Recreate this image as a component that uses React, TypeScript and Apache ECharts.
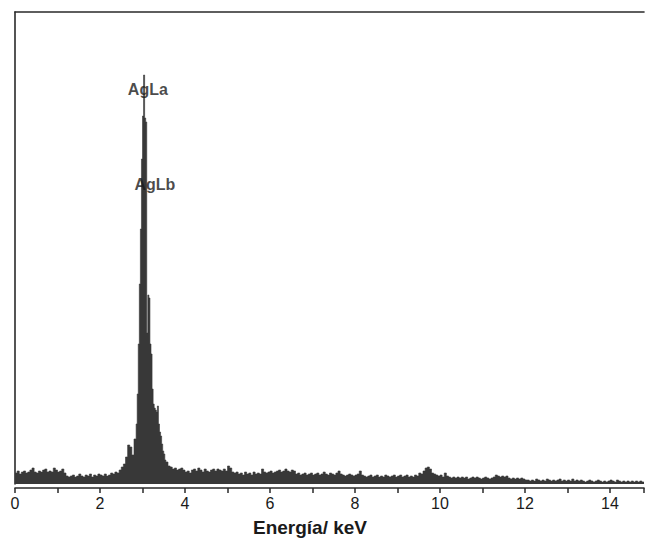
import React, { useEffect, useRef } from "react";
import * as echarts from "echarts";

// Counts (arbitrary units) in 0.05 keV bins from 0.00 to 2.80 keV
const lowCounts = [
  11, 13, 10, 12, 13, 11, 12, 14, 16, 12, 11, 13, 12, 14, 15, 12, 13, 12, 16, 14,
  12, 13, 15, 11, 8, 7, 8, 9, 7, 8, 10, 8, 7, 9, 8, 10, 7, 9, 8, 10,
  9, 8, 10, 8, 9, 11, 10, 12, 11, 14, 17, 20, 27, 39, 37, 29, 45,
];

// Fine bins (0.025 keV) across the Ag L peak
const peakEnergies = [
  2.85, 2.875, 2.9, 2.925, 2.95, 2.975, 3.0, 3.025, 3.05, 3.075, 3.1, 3.125, 3.15, 3.175,
  3.2, 3.225, 3.25, 3.275, 3.3, 3.325, 3.35, 3.375, 3.4, 3.425, 3.45, 3.475, 3.5, 3.525,
];
const peakCounts = [
  60, 90, 140, 200, 255, 325, 368, 409, 366, 362, 151, 189, 186, 140,
  130, 95, 80, 76, 74, 72, 78, 60, 52, 48, 40, 33, 30, 24,
];

// Counts in 0.05 keV bins from 3.55 to 14.75 keV
const highCounts = [
  22, 18, 17, 15, 16, 14, 15, 16, 14,
  12, 13, 11, 14, 15, 13, 16, 14, 12, 15, 13, 12, 14, 15, 13, 15, 14, 13, 15, 13,
  18, 16, 12, 11, 12, 10, 11, 9, 12, 10, 11, 9, 12, 10, 11, 10, 15, 12, 11, 12,
  13, 11, 12, 13, 14, 12, 13, 15, 13, 12, 14, 13, 10, 11, 9, 10, 11, 9, 10, 11,
  9, 10, 11, 9, 10, 12, 10, 9, 11, 10, 9, 11, 13, 10, 9, 8, 9, 10, 9, 8,
  9, 10, 13, 9, 8, 7, 8, 9, 7, 8, 9, 7, 8, 7, 9, 8, 7, 8, 9, 7,
  8, 9, 7, 8, 9, 7, 8, 7, 9, 8, 11, 10, 13, 16, 17, 15, 11, 10, 9, 8,
  9, 7, 11, 8, 7, 6, 7, 6, 7, 6, 7, 6, 7, 5, 6, 7, 6, 7, 6, 5,
  6, 7, 6, 5, 6, 7, 9, 8, 7, 8, 7, 8, 6, 5, 6, 5, 6, 5, 6, 5,
  4, 4, 3, 4, 3, 5, 4, 3, 4, 3, 5, 4, 3, 4, 3, 4, 5, 3, 4, 3,
  4, 3, 5, 3, 4, 3, 4, 3, 2, 3, 4, 3, 2, 3, 4, 3, 2, 3, 2, 3,
  4, 3, 2, 4, 3, 2, 3, 2, 3, 2, 3, 2, 3, 2, 3, 2,
];

const peakLabels = [
  { name: "AgLa", energy: 3.126, count: 395 },
  { name: "AgLb", energy: 3.29, count: 300 },
];

const xMin = 0;
const xMax = 14.8;
const yMax = 472;
const xTitle = "Energía/ keV";

export default function App() {
  const ref = useRef<HTMLDivElement>(null);

  useEffect(() => {
    if (!ref.current) return;
    const chart = echarts.init(ref.current, null, { renderer: "svg" });

    const pts: [number, number][] = [];
    lowCounts.forEach((c, i) => pts.push([+(i * 0.05).toFixed(3), c]));
    peakEnergies.forEach((e, i) => pts.push([e, peakCounts[i]]));
    highCounts.forEach((c, i) => pts.push([+(3.55 + i * 0.05).toFixed(3), c]));
    pts.push([xMax, highCounts[highCounts.length - 1]]);

    const fill = "#383838";
    const axisColor = "#2a2a2a";
    const font = "Liberation Sans, Arial, sans-serif";

    chart.setOption({
      animation: false,
      grid: { left: 15, right: 0, top: 12, bottom: 56 },
      xAxis: [
        {
          type: "value",
          min: xMin,
          max: xMax,
          interval: 1,
          position: "bottom",
          offset: 4,
          axisLine: { show: true, onZero: false, lineStyle: { color: axisColor, width: 1.6 } },
          axisTick: { show: true, length: 5, lineStyle: { color: axisColor, width: 1.5 } },
          axisLabel: {
            margin: 7,
            fontSize: 16,
            color: "#1a1a1a",
            fontFamily: font,
            formatter: (v: number) => (Math.abs(v % 2) < 1e-6 && v <= 14 ? String(v) : ""),
          },
          splitLine: { show: false },
        },
        {
          type: "value",
          min: xMin,
          max: xMax,
          position: "top",
          axisLine: { show: true, onZero: false, lineStyle: { color: axisColor, width: 1.6 } },
          axisTick: { show: false },
          axisLabel: { show: false },
          splitLine: { show: false },
        },
      ],
      yAxis: {
        type: "value",
        min: 0,
        max: yMax,
        axisLine: { show: true, lineStyle: { color: axisColor, width: 1.6 } },
        axisTick: { show: false },
        axisLabel: { show: false },
        splitLine: { show: false },
      },
      series: [
        {
          type: "line",
          xAxisIndex: 0,
          data: pts,
          step: "end",
          symbol: "none",
          lineStyle: { color: fill, width: 0.6 },
          areaStyle: { color: fill, opacity: 1 },
          silent: true,
          z: 2,
        },
        {
          type: "scatter",
          xAxisIndex: 0,
          symbolSize: 2,
          itemStyle: { color: "rgba(0,0,0,0)" },
          data: peakLabels.map((p) => ({ name: p.name, value: [p.energy, p.count] })),
          label: {
            show: true,
            position: "inside",
            formatter: "{b}",
            fontSize: 16,
            fontWeight: "bold",
            color: "#1a1a1a",
            fontFamily: font,
          },
          silent: true,
          z: 5,
        },
      ],
      graphic: [
        {
          type: "text",
          x: 310,
          y: 527,
          style: {
            text: xTitle,
            fontSize: 19,
            fontWeight: "bold",
            fill: "#1a1a1a",
            fontFamily: font,
            textAlign: "center",
            textVerticalAlign: "middle",
          },
        },
      ],
    });

    return () => chart.dispose();
  }, []);

  return (
    <div
      ref={ref}
      style={{ position: "absolute", left: 0, top: 0, width: 647, height: 540, background: "#fff" }}
    />
  );
}
